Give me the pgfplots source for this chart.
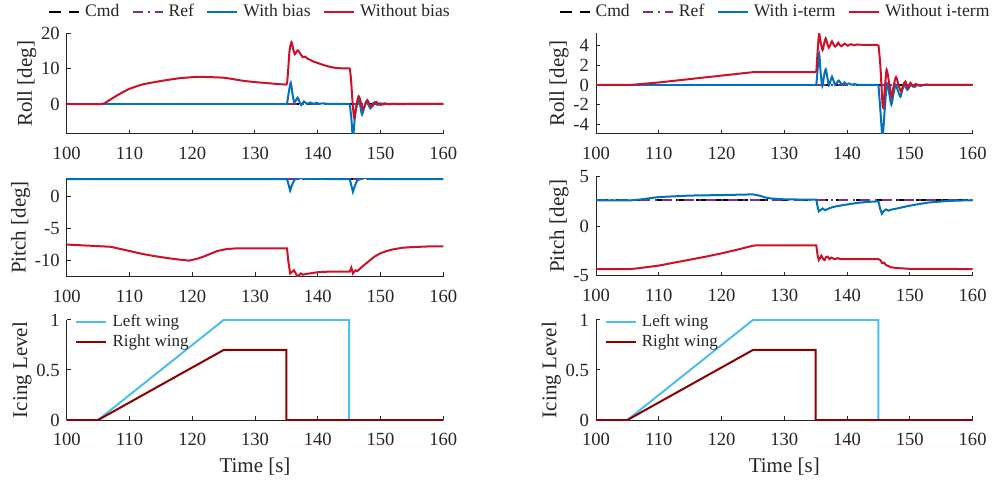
\documentclass[border=0pt]{standalone}
\usepackage{fontspec}
\setmainfont{Liberation Serif}
\usepackage{pgfplots}
\pgfplotsset{compat=1.18}

\definecolor{axisgray}{RGB}{38,38,38}
\definecolor{cmdblack}{RGB}{0,0,0}
\definecolor{refpurple}{RGB}{126,47,142}
\definecolor{withblue}{RGB}{0,114,189}
\definecolor{withoutred}{RGB}{206,17,38}
\definecolor{leftwing}{RGB}{77,190,238}
\definecolor{rightwing}{RGB}{140,0,0}

\pgfplotsset{
  panel/.style={
    scale only axis,
    width=188.3pt,
    xmin=100, xmax=160,
    xtick={100,110,...,160},
    axis x line=bottom, axis y line=left,
    axis line style={-, draw=axisgray, line width=0.5pt},
    tick align=inside,
    major tick length=2.2pt,
    tick style={draw=axisgray, line width=0.5pt},
    tick label style={font=\fontsize{9.3}{11}\selectfont, text=axisgray},
    xticklabel style={yshift=-3.2pt},
    label style={font=\fontsize{10.5}{12}\selectfont, text=axisgray},
    ylabel style={yshift=-4.5pt},
    xlabel style={yshift=1pt},
    /pgf/number format/assume math mode=true,
    legend cell align=left,
    legend image code/.code={\draw[##1] (0pt,0pt) -- (15pt,0pt);},
  },
  cmd/.style={cmdblack, line width=0.9pt, dash pattern=on 6pt off 4pt},
  ref/.style={refpurple, line width=0.9pt, dash pattern=on 5pt off 2.5pt on 1pt off 2.5pt},
  withc/.style={withblue, line width=1pt},
  withoutc/.style={withoutred, line width=1pt},
  % transient sections after each icing step are drawn as smooth curves
  osc/.style={smooth, tension=0.45, forget plot},
  toplegend/.style={
    legend columns=4,
    legend style={draw=none, fill=none, anchor=west, inner sep=0pt,
      font=\fontsize{8.8}{10}\selectfont, text=axisgray,
      nodes={inner xsep=0pt},
      /tikz/every odd column/.append style={column sep=2.5pt},
      /tikz/every even column/.append style={column sep=6.2pt}},
  },
  icelegend/.style={
    legend style={draw=none, fill=none, at={(0.022,1.10)}, anchor=north west,
      inner sep=0pt,
      font=\fontsize{8.5}{9.5}\selectfont, text=axisgray,
      nodes={inner xsep=2.6pt},
      row sep=-1.2pt},
  },
}

\begin{document}
\begin{tikzpicture}
\useasboundingbox (0,0) rectangle (497.5pt,241pt);

% ---------------- left column: bias compensation ----------------
\begin{axis}[panel, at={(33.35pt,174pt)}, anchor=south west, height=50.3pt,
  ymin=-8.5, ymax=20, ytick={0,10,20}, ylabel={Roll [deg]},
  toplegend, legend style={at={(-0.0497,1.21)}}]
\addplot[cmd] coordinates {(100,0) (160,0)};
\addlegendentry{Cmd}
\addplot[ref] coordinates {(100,0) (160,0)};
\addlegendentry{Ref}
\addplot[withc] coordinates {(100,0) (135.1,0)};
\addlegendentry{With bias}
\addplot[withc, osc] coordinates {
(135.1,0) (135.4,3.5) (135.7,6.0) (136.0,2.5) (136.25,0.5) (136.5,1.0)
(136.8,1.8) (137.05,0.8) (137.35,-0.3) (137.8,0.7) (138.3,0.0) (138.8,0.4)
(139.3,0.05) (139.8,0.3) (140.3,0.05) (140.8,0.2) (141.5,0.05) (142.5,0.05)
(145.1,0)};
\addplot[withc, osc] coordinates {
(145.1,0) (145.35,-4) (145.6,-9.5) (145.9,-4) (146.2,-0.5) (146.5,1.0)
(146.8,-0.8) (147.05,-3.0) (147.4,-1) (147.8,0.8) (148.1,-0.3) (148.4,-1.2)
(148.8,0.2) (149.1,0.5) (149.5,-0.3) (150,0.2) (150.5,-0.1) (151,0.05)
(152,0) (156,0) (160,0)};
\addplot[withoutc, smooth, tension=0.3] coordinates {
(100,0) (105.5,0) (106.2,0.4) (107,1.3) (108,2.4) (109,3.4) (110,4.3)
(112,5.5) (114,6.2) (116,6.8) (118,7.3) (120,7.6) (121,7.7) (123,7.6)
(125,7.45) (126,7.2) (128,6.6) (130,6.2) (132,5.9) (134,5.6) (135.1,5.5)};
\addlegendentry{Without bias}
\addplot[withoutc, osc] coordinates {
(135.1,5.5) (135.3,10) (135.5,15) (135.8,17.5) (136.1,15.5) (136.35,14.1)
(136.8,15.2) (137.2,14.3) (137.6,13.3) (138.0,13.4) (138.4,12.8) (138.8,12.5)
(139.2,12.1) (140,11.6) (141,11.0) (142,10.5) (143,10.2) (144,10.1)
(145.1,10.1)};
\addplot[withoutc, osc] coordinates {
(145.1,10.1) (145.3,7) (145.5,1.5) (145.8,-3.8) (146.1,-1) (146.5,2.2)
(146.85,0.5) (147.2,-1.5) (147.5,-0.3) (147.9,1.1) (148.2,0.1) (148.6,-0.8)
(148.95,0) (149.3,0.6) (150,-0.3) (150.6,0.2) (151.3,-0.1) (152,0.05)
(153,0) (156,0) (160,0)};
\end{axis}

\begin{axis}[panel, at={(33.35pt,102.65pt)}, anchor=south west, height=49.2pt,
  ymin=-12.5, ymax=2.8, ytick={-10,-5,0}, ylabel={Pitch [deg]}]
\addplot[cmd] coordinates {(100,2.65) (160,2.65)};
\addplot[ref] coordinates {(100,2.65) (160,2.65)};
\addplot[withc] coordinates {
(100,2.68) (135.1,2.68) (135.35,1.8) (135.6,0.9) (135.9,1.8) (136.3,2.6)
(137.0,2.75) (137.4,2.85) (138,2.7) (145.1,2.68) (145.35,1.7) (145.6,0.7)
(145.9,1.6) (146.3,2.5) (147,2.75) (147.5,2.85) (148.2,2.75) (149,2.68)
(160,2.68)};
\addplot[withoutc] coordinates {
(100,-7.5) (103,-7.65) (107,-7.85) (110,-8.5) (112,-8.95) (114,-9.3)
(116,-9.6) (118,-9.85) (119.5,-10.0) (121,-9.65) (122,-9.3) (123,-8.9)
(124,-8.5) (125.5,-8.2) (127,-8.1) (135.1,-8.1) (135.3,-10) (135.6,-12.0)
(136.2,-11.5) (136.8,-12.5) (137.3,-12.0) (137.6,-12.2) (138,-12.1)
(139,-11.95) (140,-11.8) (142,-11.7) (145.1,-11.7) (145.35,-11.1)
(145.6,-12.0) (146,-11.5) (146.3,-11.65) (147,-11.0) (148,-10.2)
(149,-9.4) (150,-8.85) (151,-8.5) (152,-8.25) (153.5,-8.0) (155,-7.9)
(157.5,-7.8) (160,-7.77)};
\end{axis}

\begin{axis}[panel, at={(33.35pt,31pt)}, anchor=south west, height=50pt,
  ymin=0, ymax=1, ytick={0,0.5,1}, ylabel={Icing Level}, xlabel={Time [s]},
  icelegend]
\addplot[leftwing, line width=1pt] coordinates {
(100,0) (105,0) (125,1) (145,1) (145,0) (160,0)};
\addlegendentry{Left wing}
\addplot[rightwing, line width=1pt] coordinates {
(100,0) (105,0) (125,0.7) (135,0.7) (135,0) (160,0)};
\addlegendentry{Right wing}
\end{axis}

% ---------------- right column: integral term ----------------
\begin{axis}[panel, at={(298pt,174pt)}, anchor=south west, height=50.3pt,
  ymin=-5, ymax=5.25, ytick={-4,-2,0,2,4}, ylabel={Roll [deg]},
  toplegend, legend style={at={(-0.10,1.21)}}]
\addplot[cmd] coordinates {(100,0) (160,0)};
\addlegendentry{Cmd}
\addplot[ref] coordinates {(100,0) (160,0)};
\addlegendentry{Ref}
\addplot[withc] coordinates {(100,0) (135.1,0)};
\addlegendentry{With i-term}
\addplot[withc, osc] coordinates {
(135.1,0) (135.3,1.5) (135.55,3.2) (135.8,1.2) (136.05,-0.1)
(136.35,1.0) (136.6,1.6) (136.85,0.8) (137.1,-0.05) (137.35,0.4) (137.6,0.85)
(137.85,0.4) (138.1,0.0) (138.4,0.25) (138.7,0.44) (139.0,0.15) (139.3,0.05)
(139.6,0.25) (139.9,0.05) (140.3,0.15) (140.7,0.02) (141.2,0.08) (142,0)
(145.0,0)};
\addplot[withc, osc] coordinates {
(145.0,0) (145.3,-2.5) (145.65,-5.2) (146.0,-2.5) (146.35,0.17) (146.7,-0.8)
(147.05,-2.0) (147.4,-0.9) (147.75,0.0) (148.1,-0.6) (148.5,-1.2)
(148.85,-0.4) (149.2,-0.05) (149.6,-0.5) (150.0,-0.15) (150.4,0.0)
(150.8,-0.2) (151.2,0) (151.7,-0.1) (152.3,0) (156,0) (160,0)};
\addplot[withoutc] coordinates {
(100,0) (105.5,0) (110,0.25) (115,0.6) (120,0.95) (125,1.3) (135.1,1.3)};
\addlegendentry{Without i-term}
\addplot[withoutc, osc] coordinates {
(135.1,1.3) (135.35,3.8) (135.55,5.2) (135.8,4.3) (136.1,3.56) (136.35,4.2)
(136.6,4.75) (136.85,4.2) (137.1,3.8) (137.35,4.1) (137.6,4.45) (137.85,4.1)
(138.1,3.9) (138.35,4.05) (138.6,4.3) (138.85,4.05) (139.1,3.95) (139.6,4.2)
(140.1,4.0) (140.6,4.15) (141.1,4.05) (141.6,4.12) (142.5,4.08) (145.0,4.08)};
\addplot[withoutc, osc] coordinates {
(145.0,4.08) (145.3,2.0) (145.7,-2.27) (146.0,-0.5) (146.3,1.55) (146.7,0.2)
(147.1,-1.2) (147.45,0) (147.8,0.8) (148.2,0) (148.6,-0.68) (148.95,0)
(149.3,0.35) (149.7,-0.3) (150.1,0.2) (150.5,-0.15) (150.9,0.1) (151.5,-0.05)
(152.5,0.03) (153.5,0) (156,0) (160,0)};
\end{axis}

\begin{axis}[panel, at={(298pt,103pt)}, anchor=south west, height=49.65pt,
  ymin=-5, ymax=5, ytick={-5,0,5}, ylabel={Pitch [deg]}]
\addplot[cmd] coordinates {(100,2.65) (160,2.65)};
\addplot[ref] coordinates {(100,2.65) (160,2.65)};
\addplot[withc] coordinates {
(100,2.62) (105.5,2.62) (107,2.7) (110,2.95) (115,3.1) (120,3.15) (125,3.22)
(126,3.1) (127,2.9) (128,2.8) (130,2.72) (135.1,2.68) (135.3,2.0)
(135.5,1.5) (135.8,1.65) (136.1,1.8) (136.5,1.62) (136.9,1.75) (137.5,1.9)
(138.5,2.05) (140,2.2) (141.5,2.35) (143,2.45) (145.0,2.52) (145.25,1.8)
(145.55,1.27) (145.85,1.55) (146.2,1.7) (146.6,1.58) (147,1.68) (148,1.8)
(149,1.95) (150,2.08) (151,2.2) (152,2.3) (153,2.4) (154.5,2.48) (156,2.55)
(158,2.6) (160,2.62)};
\addplot[withoutc] coordinates {
(100,-4.3) (105.5,-4.3) (107,-4.2) (110,-3.95) (112.5,-3.65) (115,-3.35)
(117.5,-3.05) (120,-2.72) (122.5,-2.35) (125,-1.95) (125.5,-1.92)
(135.1,-1.92) (135.3,-2.9) (135.5,-3.4) (135.7,-3.2) (135.9,-2.95)
(136.2,-3.3) (136.4,-3.4) (136.65,-3.1) (136.9,-3.05) (137.2,-3.3)
(137.5,-3.15) (137.8,-3.25) (138.1,-3.3) (138.5,-3.2) (139,-3.3) (140,-3.3)
(145.0,-3.3) (145.3,-3.4) (145.6,-3.7) (145.9,-3.65) (146.2,-3.9)
(146.6,-4.0) (147,-4.12) (148,-4.2) (150,-4.28) (160,-4.3)};
\end{axis}

\begin{axis}[panel, at={(298pt,31pt)}, anchor=south west, height=50pt,
  ymin=0, ymax=1, ytick={0,0.5,1}, ylabel={Icing Level}, xlabel={Time [s]},
  icelegend]
\addplot[leftwing, line width=1pt] coordinates {
(100,0) (105,0) (125,1) (145,1) (145,0) (160,0)};
\addlegendentry{Left wing}
\addplot[rightwing, line width=1pt] coordinates {
(100,0) (105,0) (125,0.7) (135,0.7) (135,0) (160,0)};
\addlegendentry{Right wing}
\end{axis}
\end{tikzpicture}
\end{document}
